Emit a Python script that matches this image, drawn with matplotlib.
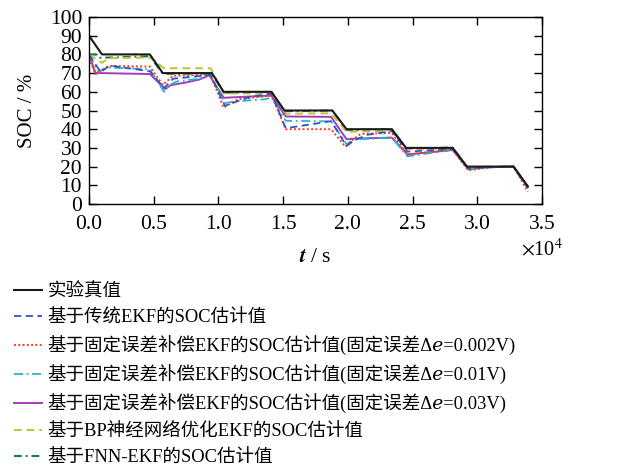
import matplotlib
matplotlib.use("Agg")
import matplotlib.pyplot as plt
from matplotlib.lines import Line2D

plt.rcParams['font.family'] = ['Liberation Serif', 'Noto Sans CJK SC', 'DejaVu Serif', 'DejaVu Sans']
plt.rcParams['mathtext.fontset'] = 'stix'

# ---- data (time in s, SOC in %) ----
t_true = [0, 1000, 4700, 5700, 9500, 10400, 14100, 15100, 18800, 19900, 23400, 24500, 28100, 29200, 32800, 33900]
v_true = [90, 80, 80, 70, 70, 60, 60, 50, 50, 40, 40, 30, 30, 20, 20, 9.5]

t_ekf = [0, 900, 1600, 4700, 5800, 6500, 9400, 10500, 12500, 14100, 15200, 18700, 19900, 20500, 21500, 23400, 24600, 28100, 29300, 31000, 32800, 33900]
v_ekf = [80, 70.5, 74, 71, 62, 67, 69, 52.5, 57.5, 59, 40.5, 44.3, 31, 34, 37, 39, 28, 29.5, 18.8, 19.8, 20, 8.5]

t_e002 = [0, 500, 1500, 4700, 5700, 6500, 9400, 10400, 11500, 14100, 15200, 18700, 19800, 20300, 21000, 23400, 24600, 28100, 29300, 31000, 32800, 33900]
v_e002 = [78, 69.5, 73.8, 73.5, 63.7, 68.6, 69, 51.5, 56, 58, 40, 40, 30.7, 34, 37.5, 38, 26.5, 29, 18, 19.6, 20, 6.6]

t_e01 = [0, 700, 1500, 4700, 5800, 6300, 6800, 8500, 9400, 10500, 11500, 13600, 14100, 15200, 18700, 19900, 20500, 23400, 24600, 28100, 29300, 31000, 32800, 33900]
v_e01 = [80, 71, 73, 72, 60, 64, 65.5, 67, 69, 54, 55, 56, 57, 44.5, 44.2, 32, 34.5, 35.5, 25.5, 29, 18.5, 19.6, 20, 8.5]

t_e03 = [0, 500, 1000, 4700, 5900, 6300, 7500, 8500, 9300, 10400, 14100, 15200, 18700, 19900, 20500, 23400, 24600, 28100, 29300, 31000, 32800, 33900]
v_e03 = [80, 70, 70, 69.5, 61.5, 63.5, 65, 66.5, 68.8, 56.8, 58, 46.8, 46.6, 34.6, 35, 35.5, 26.5, 28.9, 18.8, 19.7, 20, 9]

t_bp = [0, 1000, 1500, 4700, 5800, 9400, 10400, 14100, 15200, 18700, 19900, 23400, 24500, 28100, 29200, 32800, 33900]
v_bp = [80, 75.5, 78, 78.3, 72.6, 72.6, 59, 59.3, 48.3, 48.5, 38.6, 39.2, 29.3, 29.8, 19.6, 20, 9.2]

t_fnn = [0, 500, 800, 4700, 5700, 9500, 10400, 14100, 15100, 18800, 19900, 23400, 24500, 28100, 29200, 32800, 33900]
v_fnn = [80, 80, 78.2, 79, 69.6, 69.8, 59.5, 60, 49.6, 50, 39.6, 40, 29.7, 30.2, 19.8, 20, 9.5]

labels = [
    "实验真值",
    "基于传统EKF的SOC估计值",
    "基于固定误差补偿EKF的SOC估计值(固定误差Δ\U0001D452=0.002V)",
    "基于固定误差补偿EKF的SOC估计值(固定误差Δ\U0001D452=0.01V)",
    "基于固定误差补偿EKF的SOC估计值(固定误差Δ\U0001D452=0.03V)",
    "基于BP神经网络优化EKF的SOC估计值",
    "基于FNN-EKF的SOC估计值",
]
x_ticks = [0, 5000, 10000, 15000, 20000, 25000, 30000, 35000]
x_ticklabels = ["0.0", "0.5", "1.0", "1.5", "2.0", "2.5", "3.0", "3.5"]
y_ticks = [0, 10, 20, 30, 40, 50, 60, 70, 80, 90, 100]

series = [
    (t_true, v_true, dict(color='#1a1a1a', ls='-', lw=1.5)),
    (t_ekf, v_ekf, dict(color='#2f55c4', ls=(0, (4, 2.5)), lw=1.3)),
    (t_e002, v_e002, dict(color='#ff3a1a', ls=(0, (1, 1.2)), lw=1.4)),
    (t_e01, v_e01, dict(color='#25b7c9', ls=(0, (5, 2, 1, 2)), lw=1.3)),
    (t_e03, v_e03, dict(color='#a53cb8', ls='-', lw=1.4)),
    (t_bp, v_bp, dict(color='#bcc23a', ls=(0, (4, 2.5)), lw=1.4)),
    (t_fnn, v_fnn, dict(color='#127a3b', ls=(0, (4, 2, 1, 2)), lw=1.4)),
]

fig = plt.figure(figsize=(6.2, 4.69), dpi=100)
ax = fig.add_axes([89/620, 1-204/469, (542-89)/620, (204-17)/469])

for (t, v, st) in reversed(series):
    ax.plot(t, v, **st)
handles = [Line2D([], [], **st, label=lab) for (t, v, st), lab in zip(series, labels)]

ax.set_xlim(0, 35000)
ax.set_ylim(0, 100)
ax.set_xticks(x_ticks)
ax.set_xticklabels(x_ticklabels)
ax.set_yticks(y_ticks)
ax.tick_params(direction='in', top=True, right=True, length=6, width=1, labelsize=15.5)
ax.tick_params(axis='x', pad=8)
ax.tick_params(axis='y', pad=5)
for s in ax.spines.values():
    s.set_linewidth(1.0)
ax.set_ylabel("SOC / %", fontsize=15, labelpad=9)
ax.set_xlabel("$\\mathbfit{t}$ / s", fontsize=15.5, labelpad=10)
ax.text(1.0, -0.245, r"$\times$10$^4$", transform=ax.transAxes, ha='center', va='center', fontsize=14.5)

fig.legend(handles=handles, loc='upper left', bbox_to_anchor=(14/620, 1-283/469),
           frameon=False, fontsize=13.3, handlelength=1.5, handletextpad=0.3,
           labelspacing=0.49, borderaxespad=0, borderpad=0)

fig.savefig("out.png", dpi=100)
